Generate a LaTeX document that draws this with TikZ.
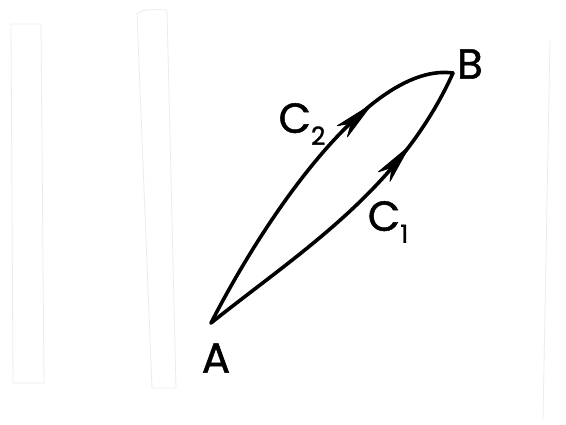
\documentclass[tikz,border=0pt]{standalone}
\usepackage{fontspec}
\setmainfont{Poppins}
\newfontfamily\lblfont[FakeBold=1.2]{Poppins}
\usetikzlibrary{calc}
\tikzset{
  curve/.style={line width=3.6pt, line cap=round},
  lbl/.style={inner sep=0pt, font=\lblfont\fontsize{42}{42}\selectfont},
  faint/.style={draw=black!8, line width=0.8pt},
  headfill/.style={fill=black, draw=black, line width=0.8pt, line join=round},
}
\newcommand{\subtwo}[1]{\raisebox{-12pt}{\fontsize{25}{25}\selectfont #1}}
\newcommand{\myhead}[2]{% tip, toward-tail
  \coordinate (hb) at ($(#1)!40pt!(#2)$);
  \path[headfill] (#1) -- ($(hb)!7.5pt!90:(#1)$) -- ($(#1)!28pt!(#2)$)
     -- ($(hb)!7.5pt!-90:(#1)$) -- cycle;}
\begin{document}
\begin{tikzpicture}[x=1pt,y=-1pt]
\useasboundingbox (0,0) rectangle (566,424);
% faint scan strips
\draw[faint] (11,24) -- (41,24) -- (44,383) -- (13,383) -- cycle;
\draw[faint] (137,14) .. controls (140,10) and (150,9) .. (167,10) -- (176,388) -- (152,388) -- cycle;
\draw[faint] (550,40) -- (543,420);
% points
\coordinate (A) at (211,323);
\coordinate (B) at (453,73);
% curves
\draw[curve] (A) .. controls (300,252) and (400,190) .. (B)
  coordinate[pos=0.66] (c1t) coordinate[pos=0.77] (c1h);
\draw[curve] (A) .. controls (268,212) and (372,62) .. (B)
  coordinate[pos=0.57] (c2t) coordinate[pos=0.685] (c2h);
\myhead{c1h}{c1t}
\myhead{c2h}{c2t}
% labels
\node[lbl] (lA) at (216,358) {A};
\node[lbl] (lB) at (470,64) {B};
\node[lbl] (lC2) at (302,124) {C\subtwo{2}};
\node[lbl] (lC1) at (388,222) {C\subtwo{1}};
\end{tikzpicture}
\end{document}
